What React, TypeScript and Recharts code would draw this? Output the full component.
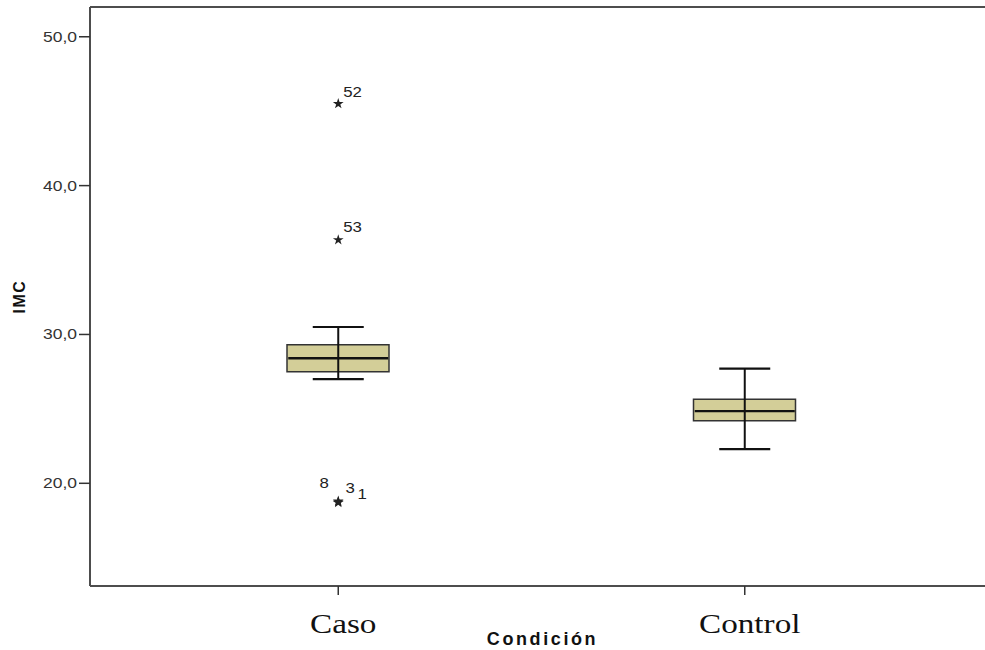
import React from "react";
import {
  Bar,
  ComposedChart,
  ReferenceLine,
  Scatter,
  Symbols,
  XAxis,
  YAxis,
} from "recharts";

// box statistics per group
const categories = ["Caso", "Control"];
const whiskerLow = [27.0, 22.3];
const q1 = [27.5, 24.2];
const median = [28.4, 24.85];
const q3 = [29.3, 25.65];
const whiskerHigh = [30.5, 27.7];

// extreme values (stars) with their case numbers
const outlierGroup = ["Caso", "Caso", "Caso", "Caso", "Caso"];
const outlierCase = [52, 53, 8, 3, 1];
const outlierValue = [45.5, 36.35, 18.8, 18.75, 18.7];

const yTicks = [20, 30, 40, 50];
const yDomain: [number, number] = [13.1, 52];

const boxData = categories.map((cond, i) => ({
  cond,
  box: [q1[i], q3[i]],
  med: median[i],
}));

// one little series per group: whisker ends, joined by the scatter line
const whiskerData = categories.map((cond, i) => [
  { cond, v: whiskerLow[i] },
  { cond, v: whiskerHigh[i] },
]);

const outlierData = outlierCase.map((id, i) => ({
  cond: outlierGroup[i],
  v: outlierValue[i],
  id,
}));

// where each case label sits relative to its star (dx, dy of baseline)
const labelPos: Record<number, [number, number, "start" | "middle"]> = {
  52: [5, -7, "start"],
  53: [5, -8, "start"],
  8: [-14, -13, "middle"],
  3: [12, -9, "middle"],
  1: [24, -4, "middle"],
};

const FRAME = "#4d4d4d";
const SANS = "'Liberation Sans', Arial, sans-serif";
const SERIF = "'Liberation Serif', 'Times New Roman', serif";

const fmt = (v: number) => v.toFixed(1).replace(".", ",");

const YTick = (props: any) => {
  const { x, y, payload } = props;
  return (
    <text
      transform={`translate(${x},${y}) scale(1.25,1)`}
      textAnchor="end"
      dy="0.35em"
      fontFamily={SANS}
      fontSize={14}
      fill="#333"
    >
      {fmt(payload.value)}
    </text>
  );
};

const XTick = (props: any) => {
  const { x, y, payload } = props;
  return (
    <text
      transform={`translate(${x + 5},${y + 36}) scale(1.23,1)`}
      textAnchor="middle"
      fontFamily={SERIF}
      fontSize={27}
      fill="#111"
    >
      {payload.value}
    </text>
  );
};

const OutlierShape = (props: any) => {
  const { cx, cy, payload } = props;
  const [dx, dy, anchor] = labelPos[payload.id] || [5, -7, "start"];
  return (
    <g>
      <Symbols cx={cx} cy={cy} type="star" size={36} fill="#222" />
      <text
        transform={`translate(${cx + dx},${cy + dy}) scale(1.2,1)`}
        textAnchor={anchor}
        fontFamily={SANS}
        fontSize={14}
        fill="#222"
      >
        {payload.id}
      </text>
    </g>
  );
};

const CapShape = (props: any) => {
  const { cx, cy } = props;
  return (
    <line x1={cx - 25.5} x2={cx + 25.5} y1={cy} y2={cy} stroke="#111" strokeWidth={2.2} />
  );
};

const MedianShape = (props: any) => {
  const { cx, cy } = props;
  return (
    <line x1={cx - 50} x2={cx + 50} y1={cy} y2={cy} stroke="#111" strokeWidth={2.4} />
  );
};

export default function App() {
  return (
    <div style={{ width: 985, height: 650, overflow: "hidden", background: "#fff" }}>
      <style>{"body{margin:0;overflow:hidden}"}</style>
      <ComposedChart
        width={985}
        height={650}
        data={boxData}
        margin={{ top: 7, right: 0, bottom: 0, left: 0 }}
      >
        <XAxis
          dataKey="cond"
          type="category"
          allowDuplicatedCategory={false}
          padding={{ left: 45, right: 37 }}
          height={64}
          tickSize={9}
          tick={<XTick />}
          tickLine={{ stroke: "#333", strokeWidth: 1.5 }}
          axisLine={{ stroke: FRAME, strokeWidth: 2 }}
          label={{
            content: (p: any) => {
              const vb = p.viewBox || {};
              return (
                <text
                  x={vb.x + vb.width / 2 + 5}
                  y={vb.y + 59}
                  textAnchor="middle"
                  fontFamily={SANS}
                  fontWeight="bold"
                  fontSize={18}
                  letterSpacing={2.6}
                  fill="#111"
                >
                  Condición
                </text>
              );
            },
          }}
        />
        <YAxis
          type="number"
          domain={yDomain}
          allowDataOverflow
          ticks={yTicks}
          width={90}
          tickSize={11}
          tick={<YTick />}
          tickLine={{ stroke: "#333", strokeWidth: 1.5 }}
          axisLine={{ stroke: FRAME, strokeWidth: 2 }}
          label={{
            content: (p: any) => {
              const vb = p.viewBox || {};
              const cy = vb.y + vb.height / 2;
              return (
                <text
                  x={19}
                  y={cy}
                  transform={`rotate(-90, 19, ${cy})`}
                  textAnchor="middle"
                  dy="0.35em"
                  fontFamily={SANS}
                  fontWeight="bold"
                  fontSize={16}
                  letterSpacing={1.5}
                  fill="#111"
                >
                  IMC
                </text>
              );
            },
          }}
        />
        <ReferenceLine
          y={yDomain[1]}
          stroke={FRAME}
          strokeWidth={2}
          ifOverflow="visible"
        />
        {whiskerData.map((d, i) => (
          <Scatter
            key={categories[i]}
            data={d}
            dataKey="v"
            line={{ stroke: "#111", strokeWidth: 2 }}
            shape={<CapShape />}
            isAnimationActive={false}
          />
        ))}
        <Bar
          dataKey="box"
          barSize={102}
          fill="#d3ce98"
          stroke="#333"
          strokeWidth={1.5}
          isAnimationActive={false}
        />
        <Scatter dataKey="med" shape={<MedianShape />} isAnimationActive={false} />
        <Scatter
          data={outlierData}
          dataKey="v"
          shape={<OutlierShape />}
          isAnimationActive={false}
        />
      </ComposedChart>
    </div>
  );
}
